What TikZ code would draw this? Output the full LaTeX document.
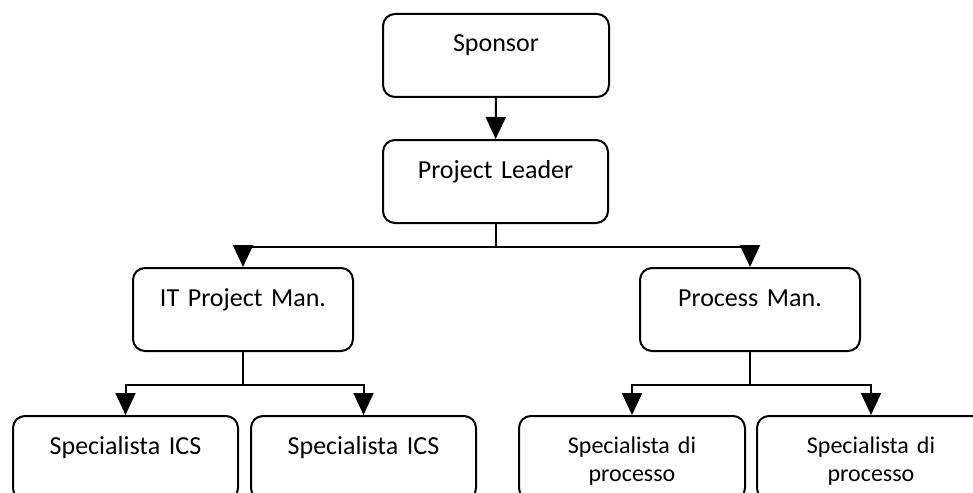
\documentclass[tikz,border=0pt]{standalone}
\usepackage{fontspec}
\setmainfont{Carlito}
\usetikzlibrary{arrows.meta}
\begin{document}
\begin{tikzpicture}[x=1pt,y=-1pt,
  box/.style={draw, line width=2pt, rounded corners=12pt, inner sep=0pt,
    align=center, anchor=north, font=\fontsize{26}{30}\selectfont,
    text height=38pt, text depth=45pt},
  smallbox/.style={box, font=\fontsize{24}{28}\selectfont, text height=37pt, text depth=47pt},
  conn/.style={line width=2pt},
  arr/.style={conn, -{Triangle[length=22pt,width=20pt]}}]
\useasboundingbox (0,0) rectangle (973,492);
\clip (0,0) rectangle (973,492);
\node[box, text width=226pt] (sp) at (496,13) {Sponsor};
\node[box, text width=225pt] (pl) at (495.5,139) {Project Leader};
\node[box, text width=220pt] (it) at (243,267) {IT Project Man.};
\node[box, text width=220pt] (pm) at (750,267) {Process Man.};
\node[box, text width=225pt, text depth=46pt] (s1) at (125.5,415) {Specialista ICS};
\node[box, text width=225pt, text depth=46pt] (s2) at (363.5,415) {Specialista ICS};
\node[smallbox, text width=226pt] (s3) at (632,415) {Specialista di\\processo};
\node[smallbox, text width=228pt] (s4) at (871,415) {Specialista di\\processo};
\coordinate (j1) at ([yshift=-23pt]pl.south);
\coordinate (j2) at ([yshift=-33pt]it.south);
\coordinate (j3) at ([yshift=-33pt]pm.south);
\draw[arr] (sp) -- (pl);
\draw[conn] (pl.south) -- (j1);
\draw[arr] (j1) -| (it.north);
\draw[arr] (j1) -| (pm.north);
\draw[conn] (it.south) -- (j2);
\draw[arr] (j2) -| (s1.north);
\draw[arr] (j2) -| (s2.north);
\draw[conn] (pm.south) -- (j3);
\draw[arr] (j3) -| (s3.north);
\draw[arr] (j3) -| (s4.north);
\end{tikzpicture}
\end{document}
